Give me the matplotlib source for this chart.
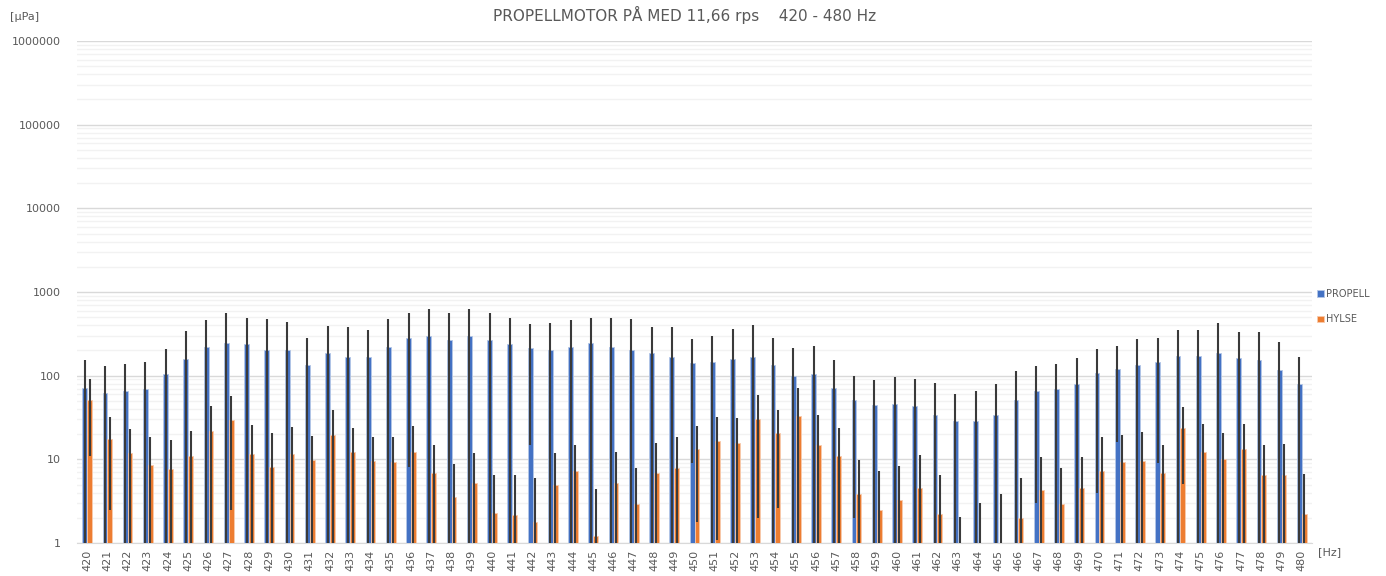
import numpy as np
import matplotlib
matplotlib.use('Agg')
import matplotlib.pyplot as plt
from matplotlib.ticker import LogLocator, NullFormatter, FixedLocator

freqs = list(range(420, 481))

propell = [72, 62, 66, 69, 104, 158, 220, 247, 236, 204,
           204, 135, 189, 168, 168, 220, 284, 297, 266, 297,
           266, 239, 214, 204, 221, 247, 221, 204, 189, 168,
           140, 145, 158, 168, 135, 100, 104, 72, 51, 44,
           46, 43, 34, 29, 29, 34, 51, 66, 69, 80,
           107, 121, 135, 145, 174, 174, 189, 162, 156, 117,
           80]
propell_err = [83, 67, 71, 75, 105, 183, 237, 313, 259, 270,
               236, 146, 206, 212, 182, 254, 276, 328, 294, 328,
               294, 256, 199, 224, 240, 248, 274, 270, 191, 212,
               131, 149, 208, 230, 146, 117, 122, 84, 49, 45,
               50, 49, 48, 32, 36, 45, 63, 63, 69, 81,
               103, 105, 136, 136, 179, 179, 236, 175, 181, 135,
               87]

hylse = [51, 17.5, 11.9, 8.5, 7.6, 11, 21.8, 29.5, 11.5, 8.2,
         11.6, 9.9, 19.5, 12.3, 9.5, 9.2, 12.3, 6.8, 3.5, 5.2,
         2.3, 2.14, 1.78, 4.9, 7.3, 1.22, 5.2, 2.9, 6.8, 7.9,
         13.4, 16.7, 15.5, 30.3, 20.8, 32.9, 14.9, 11, 3.8, 2.5,
         3.3, 4.5, 2.2, 0.6, 0.7, 0.8, 2.0, 4.3, 2.9, 4.5,
         7.3, 9.2, 9.5, 6.8, 23.4, 12.3, 10.2, 13.4, 6.5, 6.5,
         2.2]
hylse_err = [40, 15, 11, 10, 9.5, 11, 22, 27, 14, 12.4,
             13, 9.2, 19.5, 11.7, 9, 9.3, 12.4, 8, 5.2, 6.7,
             4.2, 4.4, 4.2, 6.9, 7.5, 3.2, 7, 5, 9, 10.4,
             11.6, 15.6, 15.6, 28.3, 18.2, 37.4, 18.6, 13, 5.9, 4.75,
             5.1, 6.8, 4.3, 1.45, 2.3, 3.05, 4, 6.5, 4.9, 6.3,
             11.2, 10.5, 11.9, 8, 18.3, 14.3, 10.4, 13.2, 8.2, 8.7,
             4.5]

blue = '#4472C4'
orange = '#ED7D31'
txt = '#595959'

fig = plt.figure(figsize=(13.86, 5.76), dpi=100)
ax = fig.add_axes([77 / 1386, 33 / 576, 1235 / 1386, 502 / 576])

x = np.arange(len(freqs))
w = 0.24
ax.bar(x - w / 2, propell, w, color=blue, edgecolor='#b4c7e7', linewidth=0.6,
       label='PROPELL', zorder=3)
ax.bar(x + w / 2, hylse, w, color=orange, edgecolor='#f8cbad', linewidth=0.6,
       label='HYLSE', zorder=3)
ax.errorbar(x - w / 2, propell, yerr=propell_err, fmt='none',
            ecolor='#3a3a3a', elinewidth=1.5, capsize=0, zorder=4)
ax.errorbar(x + w / 2, hylse, yerr=hylse_err, fmt='none',
            ecolor='#3a3a3a', elinewidth=1.5, capsize=0, zorder=4)

ax.set_yscale('log')
ax.set_ylim(1, 1000000)
ax.set_xlim(-0.5, len(freqs) - 0.5)

ax.yaxis.set_major_locator(FixedLocator([1, 10, 100, 1000, 10000, 100000, 1000000]))
ax.set_yticklabels(['1', '10', '100', '1000', '10000', '100000', '1000000'])
ax.yaxis.set_minor_locator(LogLocator(base=10, subs=np.arange(2, 10), numticks=20))
ax.yaxis.set_minor_formatter(NullFormatter())
ax.grid(which='major', axis='y', color='#d9d9d9', linewidth=1.0, zorder=0)
ax.grid(which='minor', axis='y', color='#f2f2f2', linewidth=1.0, zorder=0)

ax.set_xticks(x)
ax.set_xticklabels([str(f) for f in freqs], rotation=90)
ax.tick_params(axis='both', which='both', length=0, colors=txt, labelsize=8)
ax.tick_params(axis='y', pad=12)
ax.tick_params(axis='x', pad=5)

for s in ['top', 'right', 'left']:
    ax.spines[s].set_visible(False)
ax.spines['bottom'].set_color('#d9d9d9')

fig.text(685 / 1386, 1 - 15 / 576, 'PROPELLMOTOR PÅ MED 11,66 rps    420 - 480 Hz',
         ha='center', va='center', fontsize=11, color=txt)
fig.text(10 / 1386, 1 - 17 / 576, '[µPa]', ha='left', va='center', fontsize=8, color=txt)
fig.text(1318 / 1386, 1 - 552 / 576, '[Hz]', ha='left', va='center', fontsize=8, color=txt)

fig.legend(loc='upper left', bbox_to_anchor=(1308 / 1386, 1 - 280 / 576), frameon=False,
           fontsize=7, handlelength=0.7, handleheight=0.7, handletextpad=0.3,
           labelspacing=1.6, labelcolor=txt)

fig.savefig('out.png', dpi=100)
